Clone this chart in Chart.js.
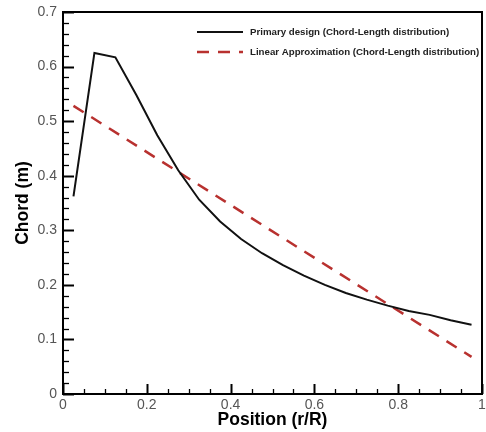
<!DOCTYPE html>
<html>
<head>
<meta charset="utf-8">
<script src="https://cdn.jsdelivr.net/npm/chart.js@4/dist/chart.umd.min.js"></script>
<style>
  html, body { margin: 0; padding: 0; background: #fff; }
  #wrap { width: 486px; height: 432px; }
</style>
</head>
<body>
<div id="wrap"><canvas id="chart" width="486" height="432"></canvas></div>
<script>
// data
var positions = [0.025, 0.075, 0.125, 0.175, 0.225, 0.275, 0.325, 0.375, 0.425, 0.475,
                 0.525, 0.575, 0.625, 0.675, 0.725, 0.775, 0.825, 0.875, 0.925, 0.975];
var primaryChord = [0.362, 0.625, 0.617, 0.548, 0.474, 0.410, 0.356, 0.316, 0.284, 0.258,
                    0.236, 0.217, 0.200, 0.185, 0.173, 0.162, 0.152, 0.145, 0.135, 0.127];
var linearPositions = [0.025, 0.975];
var linearChord = [0.528, 0.068];

var xTickValues = [0, 0.2, 0.4, 0.6, 0.8, 1];
var yTickValues = [0, 0.1, 0.2, 0.3, 0.4, 0.5, 0.6, 0.7];

var seriesLabels = ['Primary design (Chord-Length distribution)',
                    'Linear Approximation (Chord-Length distribution)'];

var FONT = "'Liberation Sans', Arial, sans-serif";

function toPoints(xs, ys) {
  return xs.map(function(x, i) { return { x: x, y: ys[i] }; });
}

// frame, inward ticks and legend inside the plot
var framePlugin = {
  id: 'frame',
  afterDraw: function(chart) {
    var ctx = chart.ctx;
    var a = chart.chartArea;
    var xs = chart.scales.x, ys = chart.scales.y;
    ctx.save();
    ctx.strokeStyle = '#000';
    ctx.lineCap = 'butt';

    // minor + major ticks on left axis
    for (var v = 0; v <= 0.7001; v += 0.02) {
      var py = Math.round(ys.getPixelForValue(v)) + 0.5;
      var major = Math.abs(v * 10 - Math.round(v * 10)) < 1e-6;
      ctx.lineWidth = major ? 2 : 1.3;
      ctx.beginPath();
      ctx.moveTo(a.left, py);
      ctx.lineTo(a.left + (major ? 11 : 6), py);
      ctx.stroke();
    }
    // bottom axis
    for (var u = 0; u <= 1.0001; u += 0.05) {
      var px = Math.round(xs.getPixelForValue(u)) + 0.5;
      var maj = Math.abs(u * 5 - Math.round(u * 5)) < 1e-6;
      ctx.lineWidth = maj ? 2 : 1.3;
      ctx.beginPath();
      ctx.moveTo(px, a.bottom);
      ctx.lineTo(px, a.bottom - (maj ? 10 : 5));
      ctx.stroke();
    }

    // frame
    ctx.lineWidth = 2;
    ctx.strokeRect(a.left, a.top, a.right - a.left, a.bottom - a.top);

    // legend
    chart.data.datasets.forEach(function(ds, i) {
      var ly = a.top + 20 + i * 20;
      var lx = a.right - 285;
      ctx.strokeStyle = ds.borderColor;
      ctx.lineWidth = ds.borderWidth;
      ctx.setLineDash(ds.borderDash || []);
      ctx.beginPath();
      ctx.moveTo(lx, ly);
      ctx.lineTo(lx + 46, ly);
      ctx.stroke();
      ctx.setLineDash([]);
      ctx.fillStyle = '#222';
      ctx.font = 'bold 9.7px ' + FONT;
      ctx.textBaseline = 'middle';
      ctx.textAlign = 'left';
      ctx.fillText(ds.label, lx + 53, ly);
    });
    ctx.restore();
  }
};

function plainLabel(value) { return String(value); }

new Chart(document.getElementById('chart').getContext('2d'), {
  type: 'line',
  data: {
    datasets: [{
      label: seriesLabels[0],
      data: toPoints(positions, primaryChord),
      borderColor: '#111',
      borderWidth: 2,
      pointRadius: 0,
      tension: 0,
      fill: false
    }, {
      label: seriesLabels[1],
      data: toPoints(linearPositions, linearChord),
      borderColor: '#b8312f',
      borderWidth: 2.5,
      borderDash: [12, 9],
      pointRadius: 0,
      tension: 0,
      fill: false
    }]
  },
  options: {
    responsive: false,
    animation: false,
    layout: { padding: { top: 12, right: 4, left: 0, bottom: 0 } },
    plugins: {
      legend: { display: false },
      tooltip: { enabled: false }
    },
    scales: {
      x: {
        type: 'linear',
        min: 0,
        max: 1,
        afterBuildTicks: function(scale) {
          scale.ticks = xTickValues.map(function(v) { return { value: v }; });
        },
        afterFit: function(scale) {
          scale.height = 38;
          scale.paddingRight = 0;
          scale.paddingLeft = 0;
        },
        grid: { display: false, drawTicks: false },
        border: { display: false },
        ticks: {
          padding: 3,
          color: '#555',
          font: { family: FONT, size: 14 },
          maxRotation: 0,
          callback: plainLabel
        },
        title: {
          display: true,
          text: 'Position (r/R)',
          color: '#000',
          font: { family: FONT, size: 17.5, weight: 'bold' },
          padding: { top: 0, bottom: 1 }
        }
      },
      y: {
        type: 'linear',
        min: 0,
        max: 0.7,
        afterBuildTicks: function(scale) {
          scale.ticks = yTickValues.map(function(v) { return { value: v }; });
        },
        afterFit: function(scale) {
          scale.width = 63;
          scale.paddingTop = 0;
          scale.paddingBottom = 0;
        },
        grid: { display: false, drawTicks: false },
        border: { display: false },
        ticks: {
          padding: 6,
          color: '#555',
          font: { family: FONT, size: 14 },
          callback: plainLabel
        },
        title: {
          display: true,
          text: 'Chord (m)',
          color: '#000',
          font: { family: FONT, size: 17.5, weight: 'bold' },
          padding: { top: 13, bottom: 0 }
        }
      }
    }
  },
  plugins: [framePlugin]
});
</script>
</body>
</html>
